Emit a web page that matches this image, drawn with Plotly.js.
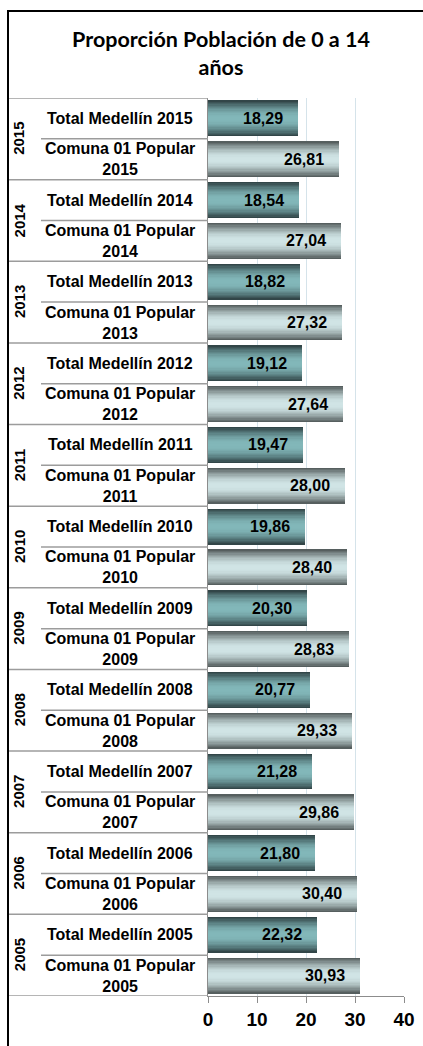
<!DOCTYPE html>
<html>
<head>
<meta charset="utf-8">
<script src="https://cdn.plot.ly/plotly-3.0.1.min.js"></script>
<style>
html,body{margin:0;padding:0;background:#fff;}
#chart{width:423px;height:1046px;}
</style>
</head>
<body>
<div id="chart"></div>
<script>
// ---- data ----
const years = [2015, 2014, 2013, 2012, 2011, 2010, 2009, 2008, 2007, 2006, 2005];
const totalMedellin = [18.29, 18.54, 18.82, 19.12, 19.47, 19.86, 20.30, 20.77, 21.28, 21.80, 22.32];
const comunaPopular = [26.81, 27.04, 27.32, 27.64, 28.00, 28.40, 28.83, 29.33, 29.86, 30.40, 30.93];
const seriesLabels = ['Total Medellín', 'Comuna 01 Popular'];
const xTicks = [0, 10, 20, 30, 40];
const chartTitle = 'Proporción Población de 0 a 14<br>años';

// ---- layout geometry (pixels) ----
const W = 423, H = 1046;
const PL = 208, PR = 404, PT = 98, PB = 996;
const px = p => (p - PL) / (PR - PL);
const py = p => (PB - p) / (PB - PT);

const totalCats = years.map(y => seriesLabels[0] + ' ' + y);
const comunaCats = years.map(y => seriesLabels[1] + ' ' + y);
const catOrder = [];
years.forEach((y, i) => { catOrder.push(totalCats[i]); catOrder.push(comunaCats[i]); });

function hex(c){return [parseInt(c.slice(1,3),16),parseInt(c.slice(3,5),16),parseInt(c.slice(5,7),16)];}
function mix(a,b,t){const A=hex(a),B=hex(b);return 'rgb('+A.map((v,i)=>Math.round(v+(B[i]-v)*t)).join(',')+')';}

const BARW = 0.88, N = 14;
const traces = [];
function gradientBars(cats, vals, dark, light){
  for(let k=0;k<N;k++){
    const frac = 1 - k/N;
    const t = k/(N-1);
    const f = Math.sin(t*Math.PI/2);
    traces.push({
      type:'bar', orientation:'h', x: vals, y: cats,
      width: BARW*frac,
      marker:{color: mix(dark, light, f), line:{width:0}},
      hoverinfo:'skip', showlegend:false
    });
  }
}
gradientBars(totalCats, totalMedellin, '#324648', '#82b7b9');
gradientBars(comunaCats, comunaPopular, '#565f5f', '#d0e4e5');

const fmt = v => v.toFixed(2).replace('.', ',');
const labFont = {family:'Arial, "Liberation Sans", sans-serif', size:16, color:'#000', weight:'bold'};

const annotations = [];
years.forEach((y, i) => {
  annotations.push({xref:'x', yref:'y', x: totalMedellin[i], y: totalCats[i], text: fmt(totalMedellin[i]),
    xanchor:'right', yanchor:'middle', xshift:-13, showarrow:false, font:labFont});
  annotations.push({xref:'x', yref:'y', x: comunaPopular[i], y: comunaCats[i], text: fmt(comunaPopular[i]),
    xanchor:'right', yanchor:'middle', xshift:-13, showarrow:false, font:labFont});
  annotations.push({xref:'paper', yref:'y', x: px(120), y: totalCats[i], text: totalCats[i],
    xanchor:'center', yanchor:'middle', showarrow:false, font:labFont});
  annotations.push({xref:'paper', yref:'y', x: px(120), y: comunaCats[i], text: seriesLabels[1] + '<br>' + y,
    xanchor:'center', yanchor:'middle', showarrow:false, font:labFont});
  annotations.push({xref:'paper', yref:'y', x: px(19), y: 2*i + 0.5, text: String(y), textangle:-90,
    xanchor:'center', yanchor:'middle', showarrow:false, font:Object.assign({}, labFont, {size:15})});
});

const shapes = [];
const lineGray = {color:'#9c9c9c', width:1.5};
for(let i=0;i<=years.length;i++){
  shapes.push({type:'line', xref:'paper', yref:'y', x0:px(8), x1:px(PL), y0:2*i-0.5, y1:2*i-0.5, line:lineGray});
  if(i<years.length){
    shapes.push({type:'line', xref:'paper', yref:'y', x0:px(41), x1:px(PL), y0:2*i+0.5, y1:2*i+0.5, line:lineGray});
  }
}
// outer frame (left and top)
shapes.push({type:'line', xref:'paper', yref:'paper', x0:px(8), x1:px(8), y0:py(10), y1:py(H+2), line:{color:'#000', width:2}});
shapes.push({type:'line', xref:'paper', yref:'paper', x0:px(7), x1:px(W+2), y0:py(11), y1:py(11), line:{color:'#000', width:2}});

const layout = {
  width: W, height: H,
  margin: {l: PL, r: W-PR, t: PT, b: H-PB, pad: 0},
  paper_bgcolor:'#fff', plot_bgcolor:'#fff',
  barmode:'overlay', bargap:0,
  hovermode:false,
  showlegend:false,
  title:{text: chartTitle, x: 221/W, xanchor:'center', xref:'container', yref:'container', y: 1 - 47/H, yanchor:'top',
    font:{family:'Lato, "Open Sans", sans-serif', size:21.5, color:'#000', weight:'bold'}},
  xaxis:{range:[0,40], tickvals: xTicks, ticktext: xTicks.map(String), showgrid:true, gridcolor:'#d5e3ea', gridwidth:1,
    zeroline:false, showline:true, linecolor:'#8c8c8c', linewidth:1, ticks:'outside', ticklen:6, tickcolor:'#8c8c8c',
    ticklabelstandoff:0, tickfont:{family:'Arial, "Liberation Sans", sans-serif', size:19, color:'#000', weight:'bold'},
    fixedrange:true},
  yaxis:{type:'category', categoryorder:'array', categoryarray: catOrder, range:[catOrder.length-0.5, -0.5],
    showticklabels:false, showgrid:false, zeroline:false, showline:true, linecolor:'#8c8c8c', linewidth:1.5,
    ticks:'', fixedrange:true},
  annotations, shapes
};

Plotly.newPlot('chart', traces, layout, {displayModeBar:false, staticPlot:true});
</script>
</body>
</html>
